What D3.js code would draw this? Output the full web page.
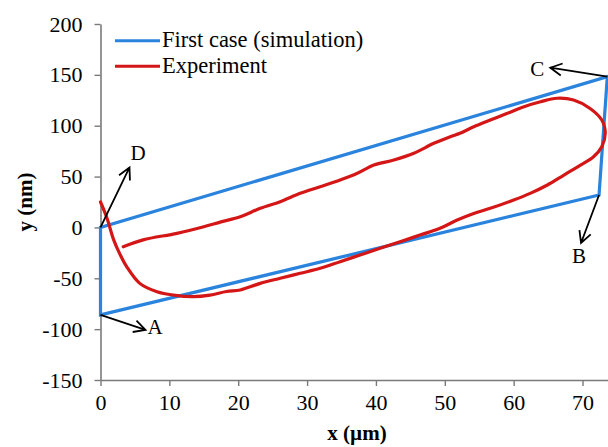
<!DOCTYPE html>
<html>
<head>
<meta charset="utf-8">
<script src="https://cdn.jsdelivr.net/npm/d3@7"></script>
<style>
  html, body { margin: 0; padding: 0; background: #fff; }
  svg { display: block; }
  text { font-family: "Liberation Serif", "Times New Roman", serif; fill: #000; }
</style>
</head>
<body>
<svg id="chart" width="608" height="447"></svg>
<script>
// Simulated hysteresis loop: corners A -> B -> C -> D -> A
const simLabels = ["A", "B", "C", "D"];
const simX = [0, 72.4, 73.6, 0];
const simY = [-86, 31.9, 148.2, 0];

// Measured loop (x in µm, y in nm)
const expX = [0.0, 0.9, 1.9, 2.8, 3.8, 5.7, 8.2, 10.6, 13.5, 15.9, 18.3, 20.3, 23.2, 26.1, 29.0, 31.9,
  34.8, 37.7, 40.6, 43.5, 46.4, 49.3, 51.8, 54.2, 56.6, 60.0, 62.4, 64.9, 67.3, 69.7, 71.6, 72.8,
  73.3, 72.8, 71.1, 68.7, 66.3, 63.9, 61.5, 59.0, 56.6, 54.2, 52.2, 50.8, 48.4, 45.5, 42.6, 39.7,
  37.3, 34.8, 31.9, 29.0, 26.1, 23.2, 20.3, 17.5, 15.0, 11.1, 6.2, 3.3];
const expY = [25, 10, -12, -26, -38.6, -55, -63.2, -66.5, -68, -66.5, -63, -61.5, -55, -50, -45.1, -40.2,
  -33.7, -27.1, -20.5, -14.1, -7.5, -0.9, 7.3, 13.8, 18.8, 27, 33.5, 41.7, 51.5, 61.3, 69.5, 79.3,
  92.5, 105.6, 117, 125.3, 127, 123.6, 118.7, 112, 105.6, 99, 92.5, 89.2, 82.7, 72.9, 66.3, 61.3,
  53.2, 46.6, 40, 33.5, 25.3, 18.8, 10.5, 5.5, 0.7, -5.8, -12.2, -19];

const xTicks = [0, 10, 20, 30, 40, 50, 60, 70];
const yTicks = [-150, -100, -50, 0, 50, 100, 150, 200];
const seriesNames = ["First case (simulation)", "Experiment"];
const seriesColors = ["#2a83dc", "#d41616"];

const svg = d3.select("#chart");
const x = d3.scaleLinear().domain([0, 73.7]).range([100.5, 608]);
const y = d3.scaleLinear().domain([-150, 200]).range([380, 24]);
const axisColor = "#7a7a7a";
const plain = d => String(d);  // hyphen-minus, as in the printed figure

// Axes
const gx = svg.append("g").attr("transform", `translate(0,${y(-150)})`)
  .call(d3.axisBottom(x).tickValues(xTicks).tickFormat(plain).tickSize(6).tickSizeOuter(0).tickPadding(8));
const gy = svg.append("g").attr("transform", `translate(${x(0)},0)`)
  .call(d3.axisLeft(y).tickValues(yTicks).tickFormat(plain).tickSize(6).tickSizeOuter(0).tickPadding(12));
[gx, gy].forEach(g => {
  g.select(".domain").attr("stroke", axisColor).attr("stroke-width", 1.6);
  g.selectAll(".tick line").attr("stroke", axisColor).attr("stroke-width", 1.4);
  g.selectAll(".tick text").attr("font-family", "Liberation Serif").attr("font-size", 22).attr("fill", "#000");
});

// Axis titles
svg.append("text").attr("x", 357).attr("y", 440).attr("text-anchor", "middle")
  .attr("font-size", 21).attr("font-weight", "bold").text("x (µm)");
svg.append("text").attr("transform", `translate(32,${(y(200) + y(-150)) / 2}) rotate(-90)`)
  .attr("text-anchor", "middle").attr("font-size", 21).attr("font-weight", "bold").text("y (nm)");

// Simulation quadrilateral
const simPts = simX.map((d, i) => [x(d), y(simY[i])]);
svg.append("path")
  .attr("d", d3.line()(simPts) + "Z")
  .attr("fill", "none").attr("stroke", seriesColors[0]).attr("stroke-width", 3.2)
  .attr("stroke-linejoin", "miter");

// Experimental loop
const expPts = expX.map((d, i) => [x(d), y(expY[i])]);
svg.append("path")
  .attr("d", d3.line().curve(d3.curveCatmullRom.alpha(0.5))(expPts))
  .attr("fill", "none").attr("stroke", seriesColors[1]).attr("stroke-width", 3.2)
  .attr("stroke-linecap", "round");

// Corner annotations: arrow from each corner, letter beyond the tip
const notes = [
  { dx: 45, dy: 15, lx: 47, ly: 19 },
  { dx: -18, dy: 48, lx: -27, ly: 68 },
  { dx: -57, dy: -9, lx: -77, ly: -1 },
  { dx: 29, dy: -60, lx: 30, ly: -67 }
];
const ann = svg.append("g");
notes.forEach((n, i) => {
  const [x0, y0] = simPts[i];
  const x1 = x0 + n.dx, y1 = y0 + n.dy;
  const ang = Math.atan2(n.dy, n.dx);
  const L = 13, h = Math.PI / 6.5;
  const a1 = [x1 - L * Math.cos(ang - h), y1 - L * Math.sin(ang - h)];
  const a2 = [x1 - L * Math.cos(ang + h), y1 - L * Math.sin(ang + h)];
  ann.append("path")
    .attr("d", `M${x0},${y0}L${x1},${y1}M${a1[0]},${a1[1]}L${x1},${y1}L${a2[0]},${a2[1]}`)
    .attr("fill", "none").attr("stroke", "#000").attr("stroke-width", 1.8)
    .attr("stroke-linejoin", "miter");
  ann.append("text").attr("x", x0 + n.lx).attr("y", y0 + n.ly)
    .attr("font-size", 21).text(simLabels[i]);
});

// Legend
const leg = svg.append("g");
seriesNames.forEach((name, i) => {
  const ly = 40.7 + i * 25.5;
  leg.append("line").attr("x1", 115).attr("x2", 160).attr("y1", ly).attr("y2", ly)
    .attr("stroke", seriesColors[i]).attr("stroke-width", 3);
  leg.append("text").attr("x", 162).attr("y", ly + 6.5).attr("font-size", 22.5).text(name);
});
</script>
</body>
</html>
